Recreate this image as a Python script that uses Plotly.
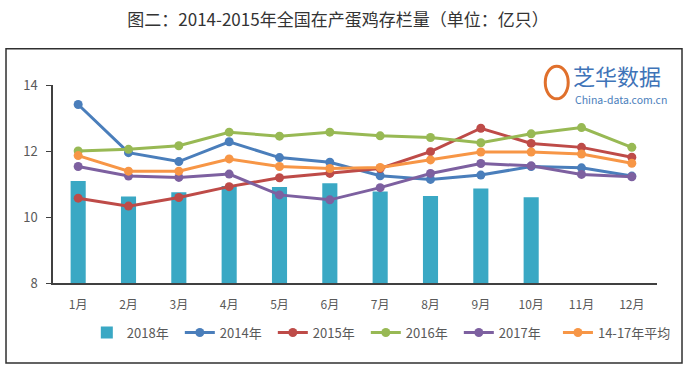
import plotly.graph_objects as go

months = ["1月", "2月", "3月", "4月", "5月", "6月", "7月", "8月", "9月", "10月", "11月", "12月"]
y2018 = [11.09, 10.62, 10.75, 10.94, 10.91, 11.02, 10.77, 10.64, 10.86, 10.60]
y2014 = [13.41, 11.95, 11.68, 12.28, 11.80, 11.66, 11.25, 11.14, 11.27, 11.53, 11.49, 11.24]
y2015 = [10.57, 10.33, 10.59, 10.92, 11.19, 11.32, 11.47, 11.98, 12.69, 12.23, 12.11, 11.81]
y2016 = [12.00, 12.05, 12.16, 12.57, 12.45, 12.57, 12.46, 12.41, 12.25, 12.52, 12.71, 12.11]
y2017 = [11.53, 11.24, 11.20, 11.30, 10.67, 10.52, 10.89, 11.32, 11.62, 11.55, 11.29, 11.22]
yavg = [11.86, 11.39, 11.39, 11.76, 11.53, 11.47, 11.50, 11.73, 11.97, 11.97, 11.91, 11.63]
y_ticks = [8, 10, 12, 14]

font = "Noto Sans CJK SC"
fig = go.Figure()
fig.add_trace(go.Bar(x=months[:len(y2018)], y=y2018, name="2018年",
                     marker=dict(color="#3AA8C4", line=dict(width=0)), width=0.3))
lines = [
    ("2014年", y2014, "#4A7EBB", "legend"),
    ("2015年", y2015, "#BE4B48", "legend"),
    ("2016年", y2016, "#98B954", "legend"),
    ("2017年", y2017, "#7D60A0", "legend"),
    ("14-17年平均", yavg, "#F79646", "legend2"),
]
for name, ys, c, lg in lines:
    fig.add_trace(go.Scatter(x=months, y=ys, name=name, mode="lines+markers",
                             line=dict(color=c, width=3), legend=lg,
                             marker=dict(color=c, size=9)))

leg_common = dict(orientation="h", xanchor="left", y=-0.25, yanchor="middle",
                  font=dict(size=13, color="#595959", family=font),
                  traceorder="normal", bgcolor="rgba(0,0,0,0)")
fig.update_layout(
    width=687, height=372,
    margin=dict(l=53, r=30, t=85, b=89, autoexpand=False),
    paper_bgcolor="white", plot_bgcolor="white",
    font=dict(family=font, color="#595959", size=12),
    title=dict(text="图二：2014-2015年全国在产蛋鸡存栏量（单位：亿只）",
               x=0.492, xanchor="center", y=0.945, yanchor="middle",
               font=dict(size=17, color="#333333", family=font)),
    showlegend=True,
    legend=dict(x=0.056, entrywidth=48, entrywidthmode="pixels", **leg_common),
    legend2=dict(x=0.836, **leg_common),
    xaxis=dict(type="category", range=[-0.5, 11.5], showline=True, linecolor="#404040",
               linewidth=1.5, ticks="", showgrid=False, ticklabelstandoff=10,
               tickfont=dict(size=12, color="#595959")),
    yaxis=dict(range=[8, 14], tickvals=y_ticks, showline=True, linecolor="#404040",
               linewidth=1.5, ticks="outside", ticklen=5, tickcolor="#404040",
               showgrid=False, zeroline=False, ticklabelstandoff=6,
               tickfont=dict(size=13, color="#595959")),
    shapes=[
        dict(type="rect", xref="paper", yref="paper", x0=-0.0778, x1=1.0414,
             y0=-0.404, y1=1.1833, line=dict(color="#303030", width=1.5)),
        dict(type="circle", xref="paper", yref="paper", x0=0.815, x1=0.853,
             y0=0.93, y1=1.095, line=dict(color="#E0702C", width=3)),
    ],
    annotations=[
        dict(text="芝华数据", xref="paper", yref="paper", x=0.858, y=1.05,
             xanchor="left", yanchor="middle", showarrow=False,
             font=dict(size=22, color="#3F74B8", family=font)),
        dict(text="China-data.com.cn", xref="paper", yref="paper", x=0.861, y=0.925,
             xanchor="left", yanchor="middle", showarrow=False,
             font=dict(size=10.5, color="#4A7EBB", family=font)),
    ],
)
fig.write_html("out.html", config={"displayModeBar": False},
               post_script="document.body.style.margin='0';")
